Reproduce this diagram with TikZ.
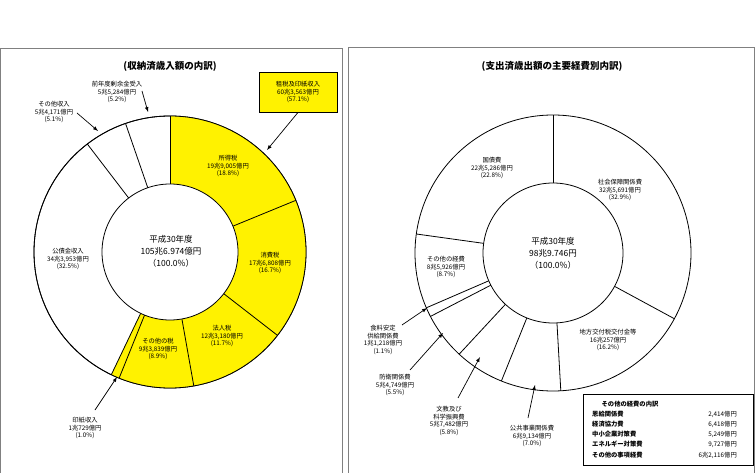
\documentclass[tikz,border=0pt]{standalone}
\usepackage{fontspec}
\setmainfont{Noto Sans CJK JP}
\begin{document}
\begin{tikzpicture}[x=1pt,y=-1pt,
  lab/.style={font=\fontsize{6.3}{7.5}\selectfont,align=center,inner sep=0pt},
  ttl/.style={font=\bfseries\fontsize{9.5}{11}\selectfont,inner sep=0pt},
  ctr/.style={font=\fontsize{8.5}{12}\selectfont,align=center,inner sep=0pt},
  arr/.style={-latex,line width=0.7pt},
  ring/.style={line width=0.8pt}]
\useasboundingbox (0,0) rectangle (755,473);
\draw[gray,line width=0.8pt] (0.5,476) -- (0.5,48) -- (342,48) -- (342,476);
\draw[gray,line width=0.8pt] (348,476) -- (348,47) -- (754.5,47) -- (754.5,476);
% left donut
\coordinate (L) at (170,252);
\fill[white,draw=black,ring] (L) circle[radius=136];
\fill[yellow] (L) -- ++(-90:136) arc[start angle=-90,end angle=115.56,radius=136] -- cycle;
\draw[ring] (L) circle[radius=136];
\foreach \a in {-90,-22.32,37.8,79.92,111.96,115.56,232.56,250.92}
  \draw[ring] (L) -- ++(\a:136);
\fill[white,draw=black,ring] (L) circle[radius=68];
\node[ttl] (t1) at (170,66) {(収納済歳入額の内訳)};
\node[ctr] (c1) at (171,251) {平成30年度\\105兆6.974億円\\（100.0\%）};
\node[lab,draw,fill=yellow,line width=0.8pt,minimum width=78pt,minimum height=40pt] (box1) at (298,92) {租税及印紙収入\\60兆3,563億円\\(57.1\%)};
\coordinate (a1) at (267,150);
\draw[arr] (box1.south) -- (a1);
\node[lab] (s1) at (228,166) {所得税\\19兆9,005億円\\(18.8\%)};
\node[lab] (s2) at (270,263) {消費税\\17兆6,808億円\\(16.7\%)};
\node[lab] (s3) at (222,336) {法人税\\12兆3,180億円\\(11.7\%)};
\node[lab] (s4) at (158,349) {その他の税\\9兆3,839億円\\(8.9\%)};
\node[lab] (s5) at (68,259) {公債金収入\\34兆3,953億円\\(32.5\%)};
\node[lab] (s6) at (85,428) {印紙収入\\1兆729億円\\(1.0\%)};
\coordinate (a6) at (117,377);
\draw[arr] (95,410) -- (a6);
\node[lab] (s7) at (54,112) {その他収入\\5兆4,171億円\\(5.1\%)};
\coordinate (a7) at (98,131);
\draw[arr] (77,113) -- (a7);
\node[lab] (s8) at (117,92) {前年度剰余金受入\\5兆5,284億円\\(5.2\%)};
\coordinate (a8) at (148,112);
\draw[arr] (142,91) -- (a8);
% right donut
\coordinate (R) at (553,253);
\fill[white,draw=black,ring] (R) circle[radius=138];
\foreach \a in {-90,28.44,86.76,111.96,132.84,152.64,156.6,187.92}
  \draw[ring] (R) -- ++(\a:138);
\fill[white,draw=black,ring] (R) circle[radius=70];
\node[ttl] (t2) at (552,66) {(支出済歳出額の主要経費別内訳)};
\node[ctr] (c2) at (553,253) {平成30年度\\98兆9.746円\\（100.0\%）};
\node[lab] (r1) at (492,168) {国債費\\22兆5,286億円\\(22.8\%)};
\node[lab] (r2) at (620,190) {社会保障関係費\\32兆5,691億円\\(32.9\%)};
\node[lab] (r3) at (446,267) {その他の経費\\8兆5,926億円\\(8.7\%)};
\node[lab] (r4) at (608,340) {地方交付税交付金等\\16兆257億円\\(16.2\%)};
\node[lab] (r5) at (383,340) {食料安定\\供給関係費\\1兆1,218億円\\(1.1\%)};
\coordinate (b5) at (427,308);
\draw[arr] (402,325) -- (b5);
\node[lab] (r6) at (395,385) {防衛関係費\\5兆4,749億円\\(5.5\%)};
\coordinate (b6) at (443,333);
\draw[arr] (410,370) -- (b6);
\node[lab] (r7) at (449,421) {文教及び\\科学振興費\\5兆7,482億円\\(5.8\%)};
\coordinate (b7) at (480,357);
\draw[arr] (458,398) -- (b7);
\node[lab] (r8) at (532,436) {公共事業関係費\\6兆9,134億円\\(7.0\%)};
\coordinate (b8) at (535,385);
\draw[arr] (528,418) -- (b8);
\node[draw,line width=0.8pt,minimum width=170pt,minimum height=71pt,inner sep=0pt] (box2) at (668,429.5) {};
\node[lab,font=\bfseries\fontsize{6.3}{7.5}\selectfont] (bt) at (630,404) {その他の経費の内訳};
\foreach \y/\n/\v in {414/恩給関係費/2{,}414億円,424/経済協力費/6{,}418億円,434/中小企業対策費/5{,}249億円,444/エネルギー対策費/9{,}727億円,455/その他の事項経費/6兆2{,}116億円}{
  \node[lab,anchor=west,font=\bfseries\fontsize{6.3}{7.5}\selectfont] at (592,\y) {\n};
  \node[lab,anchor=east] at (737,\y) {\v};
}
\end{tikzpicture}
\end{document}
